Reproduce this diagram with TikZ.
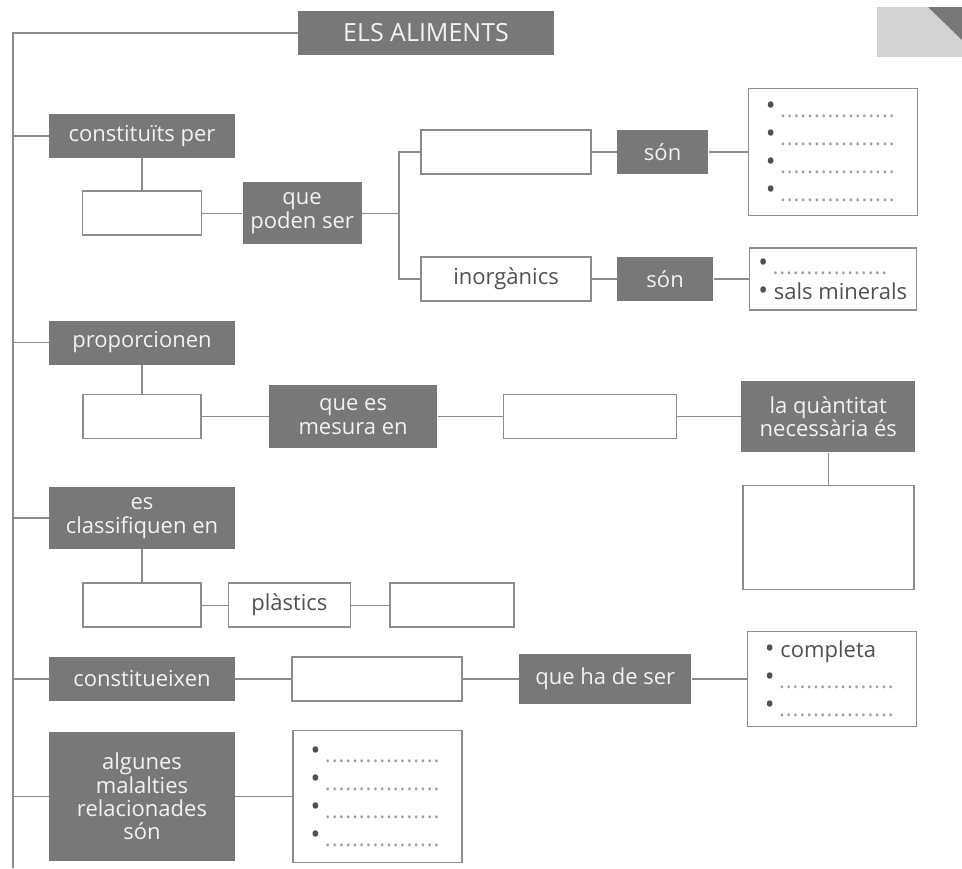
\documentclass[tikz,border=0pt]{standalone}
\usepackage{fontspec}
\setmainfont{Open Sans}
\usepackage{tikz}
\usetikzlibrary{positioning}
\definecolor{boxgray}{HTML}{787878}
\definecolor{lgray}{HTML}{8C8C8C}
\definecolor{tgray}{HTML}{505050}
\definecolor{dgray}{HTML}{A0A0A0}
\newcommand\blank{\textcolor{dgray}{\raisebox{-1.5pt}{\hbox to 60pt{\leaders\hbox to 3.4pt{\hss.\hss}\hfill}}}}
\newcommand\bul{\textcolor{tgray}{\fontsize{13}{14}\selectfont\textbullet}}
\newcommand\bl{\bul\hspace{2pt}\blank}

\begin{document}
\begin{tikzpicture}[x=0.5pt,y=-0.5pt,
  every node/.style={inner sep=0pt,font=\fontsize{11}{11.7}\selectfont},
  dark/.style={fill=boxgray,text=white!95!black,align=center,minimum height=22pt},
  empty/.style={draw=lgray,line width=0.7pt,minimum height=22pt},
  list/.style={draw=lgray,line width=0.7pt,text=tgray,align=left,font=\fontsize{11}{14}\selectfont},
  every edge/.style={draw=lgray,line width=0.6pt}]
  \useasboundingbox (0,0) rectangle (962,868);
  \fill[gray!35] (877,7) rectangle (962,57);
  \fill[boxgray] (928,7) -- (962,7) -- (962,40) -- cycle;

  \node (0) [dark,minimum width=128pt,font=\fontsize{12.5}{14}\selectfont] at (426,33) {ELS ALIMENTS};
  \coordinate (top) at (13,33);
  \coordinate (bot) at (13,868);
  \draw[lgray,line width=0.6pt] (0) -- (top) -- (bot);

  \node (1) [dark,minimum width=93pt] at (142,136) {constituïts per}
    edge (1 -| top);
  \node (2) [empty,minimum width=59.5pt,below=16pt of 1] {}
    edge (1);
  \node (3) [dark,minimum width=59.5pt,minimum height=31pt,right=20pt of 2] {que\\poden ser}
    edge (2);
  \coordinate [right=18.5pt of 3] (br);
  \draw[lgray,line width=0.6pt] (3) -- (br);
  \node (4) [empty,minimum width=85pt] at (506,152) {};
  \node (5) [dark,minimum width=45.5pt,right=12.5pt of 4] {són}
    edge (4);
  \node (6) [list,minimum width=84.5pt,minimum height=63.5pt,right=19.5pt of 5] {\bl\\\bl\\\bl\\\bl}
    edge (5);
  \node (7) [empty,minimum width=85pt,text=tgray] at (506,279) {inorgànics};
  \node (8) [dark,minimum width=48pt,right=12.5pt of 7] {són}
    edge (7);
  \node (9) [list,minimum width=83.5pt,minimum height=31pt,right=17.5pt of 8] {\bl\\\bul\ sals minerals}
    edge (8);
  \draw[lgray,line width=0.6pt] (4) -| (br) |- (7);

  \node (10) [dark,minimum width=93pt] at (142,342.5) {proporcionen}
    edge (10 -| top);
  \node (11) [empty,minimum width=59pt,below=14.5pt of 10] {}
    edge (10);
  \node (12) [dark,minimum width=84pt,minimum height=31.5pt,right=33.5pt of 11] {que es\\mesura en}
    edge (11);
  \node (13) [empty,minimum width=86.5pt,right=32.5pt of 12] {}
    edge (12);
  \node (14) [dark,minimum width=87pt,minimum height=35.5pt,right=32pt of 13] {la quàntitat\\necessària és}
    edge (13);
  \node (15) [empty,minimum width=85.5pt,minimum height=52pt,below=16pt of 14] {}
    edge (14);

  \node (16) [dark,minimum width=93pt,minimum height=31pt] at (142,518) {es\\classifiquen en}
    edge (16 -| top);
  \node (17) [empty,minimum width=59pt,below=16.5pt of 16] {}
    edge (16);
  \node (18) [empty,minimum width=61pt,text=tgray,right=13pt of 17] {plàstics}
    edge (17);
  \node (19) [empty,minimum width=62pt,right=19pt of 18] {}
    edge (18);

  \node (20) [dark,minimum width=93pt] at (142,679) {constitueixen}
    edge (20 -| top);
  \node (21) [empty,minimum width=85pt,right=28pt of 20] {}
    edge (20);
  \node (22) [dark,minimum width=86pt,minimum height=25pt,right=28pt of 21] {que ha de ser}
    edge (21);
  \node (23) [list,minimum width=84.5pt,minimum height=47.5pt,right=27.5pt of 22] {\bul\ completa\\\bl\\\bl}
    edge (22);

  \node (24) [dark,minimum width=93pt,minimum height=64.5pt] at (142,796.5) {algunes\\malalties\\relacionades\\són}
    edge (24 -| top);
  \node (25) [list,minimum width=84.5pt,minimum height=66pt,right=28.5pt of 24] {\bl\\\bl\\\bl\\\bl}
    edge (24);
\end{tikzpicture}
\end{document}
